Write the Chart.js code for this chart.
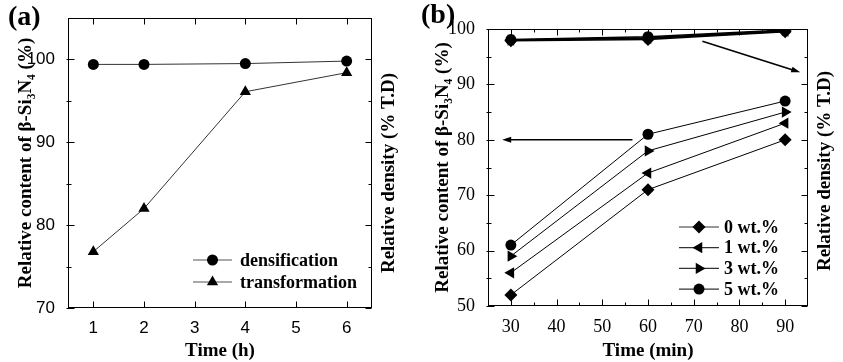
<!DOCTYPE html>
<html><head><meta charset="utf-8">
<script src="https://cdn.jsdelivr.net/npm/chart.js@4.4.1/dist/chart.umd.min.js"></script>
<style>
html,body{margin:0;padding:0;background:#fff;}
#wrap{position:relative;width:843px;height:362px;background:#fff;}
.p{position:absolute;top:0;height:362px;}
#pa{left:0;width:420px;}
#pb{left:420px;width:423px;}
</style></head><body>
<div id="wrap"><div class="p" id="pa"><canvas id="ca" width="420" height="362"></canvas></div><div class="p" id="pb"><canvas id="cb" width="423" height="362"></canvas></div></div>
<script>
// ---------- Panel (a) data ----------
const timeA = [1, 2, 4, 6];
const densA = [99.4, 99.4, 99.5, 99.8];
const transA = [76.8, 82.0, 96.1, 98.4];
const legendA = ['densification', 'transformation'];
const tickXA = [1, 2, 3, 4, 5, 6];
const tickYA = [70, 80, 90, 100];
const minorYA = [75, 85, 95];

// ---------- Panel (b) data ----------
const timeB = [30, 60, 90];
const legendB = ['0 wt.%', '1 wt.%', '3 wt.%', '5 wt.%'];
const densB0 = [97.9, 98.1, 99.5];
const densB1 = [98.0, 98.3, 99.6];
const densB3 = [98.0, 98.4, 99.7];
const densB5 = [98.1, 98.6, 99.8];
const transB0 = [52, 71, 80];
const transB1 = [56, 74, 83];
const transB3 = [59, 78, 85];
const transB5 = [61, 81, 87];
const tickXB = [30, 40, 50, 60, 70, 80, 90];
const minorXB = [35, 45, 55, 65, 75, 85];
const tickYB = [50, 60, 70, 80, 90, 100];
const minorYB = [55, 65, 75, 85, 95];
// arrows (data coords): [x1, y1, x2, y2]
const arrowDensB = [71.9, 97.8, 93.3, 92.2];
const arrowTransB = [56.6, 80, 28.1, 80];

const leftTitle = 'Relative content of \u03B2-Si\u2083N\u2084 (%)';
const rightTitle = 'Relative density (% T.D)';

const serif = "'Liberation Serif', 'Times New Roman', serif";
const sans = "'Liberation Sans', Arial, sans-serif";

function pts(xs, ys) { return xs.map((x, i) => ({ x: x, y: ys[i] })); }

function drawMarker(ctx, style, r, rot, x, y) {
  ctx.save();
  ctx.fillStyle = '#000';
  ctx.strokeStyle = '#000';
  if (Chart.helpers && Chart.helpers.drawPoint) {
    Chart.helpers.drawPoint(ctx, { pointStyle: style, radius: r, rotation: rot, borderWidth: 0 }, x, y);
  } else {
    ctx.beginPath(); ctx.arc(x, y, r, 0, Math.PI * 2); ctx.fill();
  }
  ctx.restore();
}

const decor = {
  id: 'decor',
  beforeDatasetsDraw(chart, args, o) {
    const { ctx, chartArea: a, scales: { x, y } } = chart;
    ctx.save();
    ctx.strokeStyle = '#000';
    ctx.lineWidth = 1;
    const L = Math.round(a.left) + 0.5, R = Math.round(a.right) - 0.5;
    const T = Math.round(a.top) + 0.5, B = Math.round(a.bottom) - 0.5;
    ctx.strokeRect(L, T, R - L, B - T);
    const seg = (x1, y1, x2, y2) => { ctx.beginPath(); ctx.moveTo(x1, y1); ctx.lineTo(x2, y2); ctx.stroke(); };
    const xt = (vals, len) => vals.forEach(v => { const p = Math.round(x.getPixelForValue(v)) + 0.5; seg(p, B, p, B - len); seg(p, T, p, T + len); });
    const yt = (vals, len) => vals.forEach(v => { const p = Math.round(y.getPixelForValue(v)) + 0.5; seg(L - 2, p, L + len, p); seg(R, p, R - len, p); });
    xt(o.xMajor || [], 6); xt(o.xMinor || [], 3);
    yt(o.yMajor || [], 6); yt(o.yMinor || [], 3);
    ctx.restore();
  },
  afterDraw(chart, args, o) {
    const { ctx, chartArea: a, scales: { x, y } } = chart;
    ctx.save();
    // panel label
    ctx.fillStyle = '#000';
    ctx.font = 'bold 28px ' + serif;
    ctx.textBaseline = 'middle';
    ctx.textAlign = 'left';
    ctx.fillText(o.panel, o.panelX, o.panelY);
    // right title (reads bottom to top)
    ctx.save();
    ctx.translate(o.rightX, o.rightY);
    ctx.rotate(-Math.PI / 2);
    ctx.font = 'bold 19px ' + serif;
    ctx.textAlign = 'center';
    ctx.textBaseline = 'middle';
    ctx.fillText(rightTitle, 0, 0);
    ctx.restore();
    // legend
    const lg = o.legend;
    ctx.font = 'bold 18px ' + serif;
    ctx.textAlign = 'left';
    ctx.textBaseline = 'middle';
    lg.items.forEach((it, i) => {
      const yy = lg.y + i * lg.dy;
      ctx.strokeStyle = lg.lineColor;
      ctx.lineWidth = 1.2;
      ctx.beginPath(); ctx.moveTo(lg.x1, yy); ctx.lineTo(lg.x2, yy); ctx.stroke();
      drawMarker(ctx, it.style, it.r, it.rot, (lg.x1 + lg.x2) / 2, yy);
      ctx.fillStyle = '#000';
      ctx.fillText(it.text, lg.tx, yy + 1);
    });
    // arrows
    (o.arrows || []).forEach(ar => {
      const x1 = x.getPixelForValue(ar[0]), y1 = y.getPixelForValue(ar[1]);
      const x2 = x.getPixelForValue(ar[2]), y2 = y.getPixelForValue(ar[3]);
      const ang = Math.atan2(y2 - y1, x2 - x1);
      ctx.strokeStyle = '#000'; ctx.fillStyle = '#000'; ctx.lineWidth = 1.6;
      ctx.beginPath(); ctx.moveTo(x1, y1); ctx.lineTo(x2 - 6 * Math.cos(ang), y2 - 6 * Math.sin(ang)); ctx.stroke();
      ctx.beginPath();
      ctx.moveTo(x2, y2);
      ctx.lineTo(x2 - 9 * Math.cos(ang) + 3 * Math.sin(ang), y2 - 9 * Math.sin(ang) - 3 * Math.cos(ang));
      ctx.lineTo(x2 - 9 * Math.cos(ang) - 3 * Math.sin(ang), y2 - 9 * Math.sin(ang) + 3 * Math.cos(ang));
      ctx.closePath(); ctx.fill();
    });
    ctx.restore();
  }
};

function ds(label, xs, ys, style, r, rot, color, bw) {
  return {
    label: label, data: pts(xs, ys),
    borderColor: color, borderWidth: bw || 1,
    pointStyle: style, pointRadius: r, pointRotation: rot || 0,
    pointBackgroundColor: '#000', pointBorderColor: '#000', pointBorderWidth: 0,
    pointHoverRadius: r, tension: 0, fill: false
  };
}

function scaleX(min, max, ticks, font, title, h) {
  return {
    type: 'linear', min: min, max: max,
    afterBuildTicks: s => { s.ticks = ticks.map(v => ({ value: v })); },
    grid: { display: false }, border: { display: false },
    ticks: { font: font, color: '#000', padding: 2, maxRotation: 0, autoSkip: false },
    title: { display: true, text: title, color: '#000', font: { family: serif, size: 19, weight: 'bold' }, padding: { top: 0, bottom: 0 } },
    afterFit: s => { s.height = h; }
  };
}
function scaleY(min, max, ticks, font, w) {
  return {
    type: 'linear', min: min, max: max,
    afterBuildTicks: s => { s.ticks = ticks.map(v => ({ value: v })); },
    grid: { display: false }, border: { display: false },
    ticks: { font: font, color: '#000', padding: 5, autoSkip: false },
    title: { display: true, text: leftTitle, color: '#000', font: { family: serif, size: 19, weight: 'bold' }, padding: { top: 0, bottom: 0 } },
    afterFit: s => { s.width = w; }
  };
}

Chart.defaults.animation = false;

new Chart(document.getElementById('ca'), {
  type: 'line',
  data: {
    datasets: [
      ds(legendA[0], timeA, densA, 'circle', 5.5, 0, '#333'),
      ds(legendA[1], timeA, transA, 'triangle', 6.5, 0, '#333')
    ]
  },
  options: {
    responsive: false, devicePixelRatio: 1, animation: false,
    layout: { padding: { left: 15, top: 18, right: 48, bottom: 0 } },
    scales: {
      x: scaleX(0.5, 6.5, tickXA, { family: sans, size: 17 }, 'Time (h)', 54),
      y: scaleY(70, 105, tickYA, { family: sans, size: 17 }, 53)
    },
    plugins: {
      legend: { display: false }, tooltip: { enabled: false },
      decor: {
        panel: '(a)', panelX: 8, panelY: 18,
        rightX: 389, rightY: 173,
        xMajor: tickXA, xMinor: [], yMajor: tickYA, yMinor: minorYA,
        legend: {
          x1: 193, x2: 232, tx: 240, y: 260, dy: 22, lineColor: '#555',
          items: [
            { text: legendA[0], style: 'circle', r: 5.5, rot: 0 },
            { text: legendA[1], style: 'triangle', r: 6.5, rot: 0 }
          ]
        },
        arrows: []
      }
    }
  },
  plugins: [decor]
});

new Chart(document.getElementById('cb'), {
  type: 'line',
  data: {
    datasets: [
      ds(legendB[0], timeB, densB0, 'rectRot', 6.5, 0, '#000', 1.5),
      ds(legendB[1], timeB, densB1, 'triangle', 6.5, -90, '#000', 1.5),
      ds(legendB[2], timeB, densB3, 'triangle', 6.5, 90, '#000', 1.5),
      ds(legendB[3], timeB, densB5, 'circle', 5.5, 0, '#000', 1.5),
      ds(legendB[0], timeB, transB0, 'rectRot', 6.5, 0, '#000'),
      ds(legendB[1], timeB, transB1, 'triangle', 6.5, -90, '#000'),
      ds(legendB[2], timeB, transB3, 'triangle', 6.5, 90, '#000'),
      ds(legendB[3], timeB, transB5, 'circle', 5.5, 0, '#000')
    ]
  },
  options: {
    responsive: false, devicePixelRatio: 1, animation: false,
    layout: { padding: { left: 12, top: 29, right: 35, bottom: 0 } },
    scales: {
      x: scaleX(25, 95, tickXB, { family: serif, size: 18 }, 'Time (min)', 56),
      y: scaleY(50, 100, tickYB, { family: serif, size: 18 }, 56)
    },
    plugins: {
      legend: { display: false }, tooltip: { enabled: false },
      decor: {
        panel: '(b)', panelX: 1, panelY: 16,
        rightX: 405, rightY: 171,
        xMajor: tickXB, xMinor: minorXB, yMajor: tickYB, yMinor: minorYB,
        legend: {
          x1: 259, x2: 299, tx: 304, y: 227, dy: 20.7, lineColor: '#333',
          items: [
            { text: legendB[0], style: 'rectRot', r: 6.5, rot: 0 },
            { text: legendB[1], style: 'triangle', r: 6.5, rot: -90 },
            { text: legendB[2], style: 'triangle', r: 6.5, rot: 90 },
            { text: legendB[3], style: 'circle', r: 5.5, rot: 0 }
          ]
        },
        arrows: [arrowDensB, arrowTransB]
      }
    }
  },
  plugins: [decor]
});
</script>
</body></html>
